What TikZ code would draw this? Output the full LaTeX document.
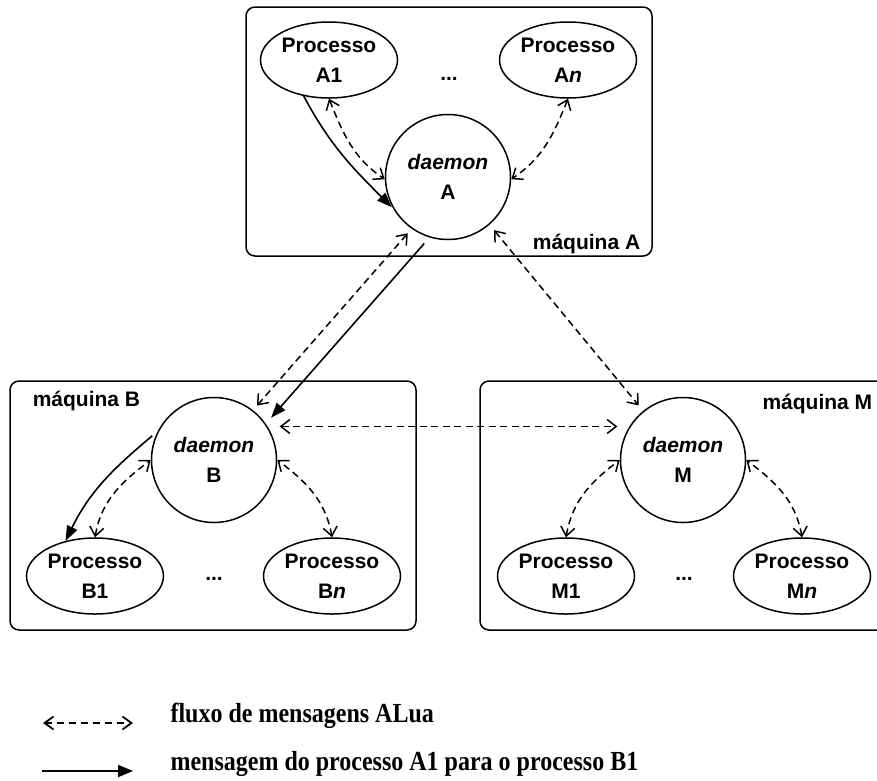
\documentclass[tikz,border=0pt]{standalone}
\usepackage{fontspec}
\setmainfont{Liberation Serif}
\setsansfont{Liberation Sans}
\usetikzlibrary{shapes.geometric,arrows.meta}

\begin{document}
\begin{tikzpicture}[x=1pt,y=1pt,
  every node/.style={font=\sffamily\bfseries\fontsize{21}{30}\selectfont, align=center},
  machine/.style={draw, line width=1.5pt, rounded corners=9pt,
    minimum width=406pt, minimum height=249pt, inner sep=0pt},
  daemon/.style={draw, circle, line width=1.5pt, minimum size=125pt, inner sep=0pt},
  proc/.style={draw, ellipse, line width=1.5pt, minimum width=137pt,
    minimum height=76pt, inner sep=0pt},
  flow/.style={line width=1.5pt, dash pattern=on 7pt off 4.5pt,
    {Straight Barb[length=9pt,width=14pt]}-{Straight Barb[length=9pt,width=14pt]}},
  msg/.style={line width=1.6pt, -{Triangle[length=15pt,width=11pt]}},
  legend/.style={font=\rmfamily\bfseries\fontsize{24}{28}\selectfont,
    anchor=base west, yscale=1.15},
]

\useasboundingbox (0,0) rectangle (877,-780); %% page

%% machine A
\node[machine] (maqA) at (449,-131.5) {};
\node[anchor=base east] (lblA) at ([xshift=-9pt,yshift=7pt]maqA.south east) {máquina A};
\node[daemon] (daemonA) at (448,-177) {\textit{daemon}\\A};
\node[proc] (procA1) at (329,-60) {Processo\\A1};
\node[proc] (procAn) at (568,-60) {Processo\\A\textit{n}};
\node (dotsA) at (449,-79) {...};

%% machine B
\node[machine] (maqB) at (213,-505.5) {};
\node[anchor=base west] (lblB) at ([xshift=20pt,yshift=-26pt]maqB.north west) {máquina B};
\node[daemon] (daemonB) at (214,-460) {\textit{daemon}\\B};
\node[proc] (procB1) at (95,-576) {Processo\\B1};
\node[proc] (procBn) at (332,-576) {Processo\\B\textit{n}};
\node (dotsB) at (214,-579) {...};

%% machine M
\node[machine] (maqM) at (683,-505.5) {};
\node[anchor=base east] (lblM) at ([xshift=-11pt,yshift=-29pt]maqM.north east) {máquina M};
\node[daemon] (daemonM) at (683,-460) {\textit{daemon}\\M};
\node[proc] (procM1) at (566,-576) {Processo\\M1};
\node[proc] (procMn) at (802,-576) {Processo\\M\textit{n}};
\node (dotsM) at (684,-579) {...};

%% inside the machines
\draw[flow] (procA1.south) to[out=-68,in=146] (daemonA.182);
\draw[flow] (procAn.south) to[out=-112,in=34] (daemonA.-2);
\draw[msg, shorten >=2pt] (procA1.235) to[out=-62,in=135] (daemonA.210);

\draw[flow] (procB1.north) to[out=80,in=217] (daemonB.west);
\draw[flow] (procBn.north) to[out=100,in=-37] (daemonB.east);
\draw[msg, shorten <=7pt] (daemonB.153) to[out=220,in=64] (procB1.130);

\draw[flow] (procM1.north) to[out=80,in=217] (daemonM.west);
\draw[flow] (procMn.north) to[out=100,in=-37] (daemonM.east);

%% between the machines
\draw[flow, shorten <=6pt, shorten >=6pt] (daemonA.235) -- (daemonB.52);
\draw[msg, shorten <=8pt, shorten >=8pt] (daemonA.253) -- (daemonB.35);
\draw[flow, shorten <=7pt, shorten >=7pt] (daemonA.311) -- (daemonM.129);
\draw[flow, shorten <=12pt, shorten >=12pt] (daemonB.32) -- (daemonM.148);

%% legend
\coordinate (flowL) at (43,-723);
\coordinate (flowR) at (133,-723);
\coordinate (msgL) at (42,-771);
\coordinate (msgR) at (133,-771);
\draw[line width=1.8pt, dash pattern=on 7pt off 5pt,
  {Straight Barb[length=9pt,width=13pt]}-{Straight Barb[length=9pt,width=13pt]}] (flowL) -- (flowR);
\draw[line width=1.8pt, -{Triangle[length=15pt,width=12pt]}] (msgL) -- (msgR);
\node[legend] (legFlow) at (167,-722) {fluxo de mensagens ALua};
\node[legend] (legMsg) at (167,-770) {mensagem do processo A1 para o processo B1};

\end{tikzpicture}
\end{document}
